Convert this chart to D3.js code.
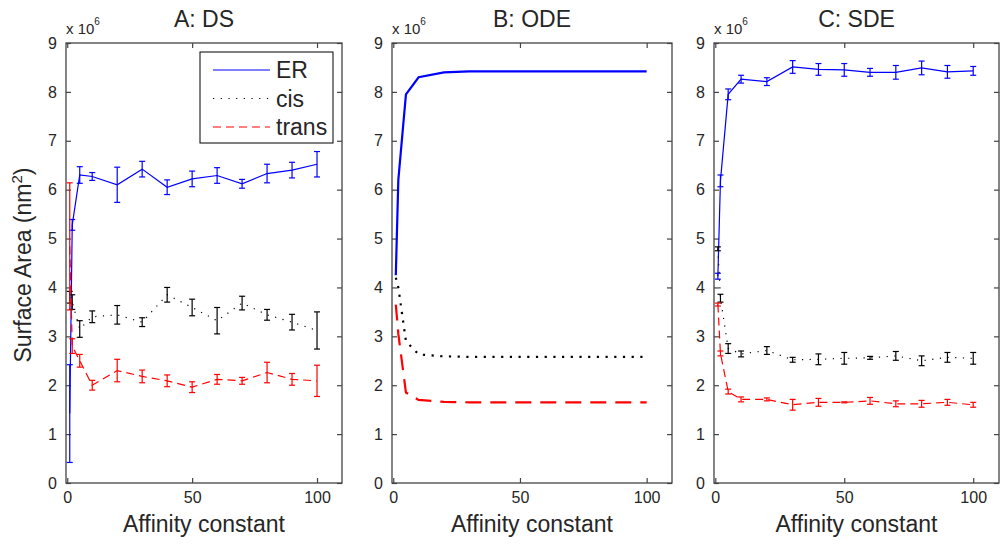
<!DOCTYPE html>
<html>
<head>
<meta charset="utf-8">
<script src="https://cdn.jsdelivr.net/npm/d3@7"></script>
<style>
  body { margin: 0; background: #fff; }
  svg { font-family: "Liberation Sans", Arial, sans-serif; }
</style>
</head>
<body>
<svg id="chart" width="1000" height="544"></svg>
<script>
// affinity constants (x) shared by every series
const affinity = [1, 2, 5, 10, 20, 30, 40, 50, 60, 70, 80, 90, 100];
const yTicks = [0, 1, 2, 3, 4, 5, 6, 7, 8, 9];
const xTicks = [0, 50, 100];
const seriesNames = ['ER', 'cis', 'trans'];

// A: DS  (values in units of 10^6 nm^2)
const dsER = [1.42, 5.28, 6.30, 6.27, 6.10, 6.42, 6.05, 6.22, 6.29, 6.12, 6.33, 6.40, 6.52];
const dsERerr = [1.0, 0.11, 0.17, 0.08, 0.36, 0.16, 0.15, 0.16, 0.16, 0.09, 0.19, 0.16, 0.26];
const dsCis = [3.80, 3.70, 3.15, 3.40, 3.44, 3.29, 3.85, 3.59, 3.32, 3.68, 3.44, 3.29, 3.12];
const dsCisErr = [0.12, 0.15, 0.17, 0.12, 0.19, 0.09, 0.15, 0.17, 0.27, 0.14, 0.11, 0.16, 0.38];
const dsTrans = [4.84, 2.80, 2.50, 2.00, 2.30, 2.18, 2.09, 1.96, 2.12, 2.09, 2.26, 2.12, 2.09];
const dsTransErr = [1.3, 0.15, 0.13, 0.10, 0.23, 0.13, 0.12, 0.11, 0.10, 0.07, 0.21, 0.12, 0.32];

// B: ODE (no error bars)
const odeER = [4.25, 6.20, 7.95, 8.30, 8.40, 8.42, 8.42, 8.42, 8.42, 8.42, 8.42, 8.42, 8.42];
const odeCis = [4.20, 4.00, 2.90, 2.63, 2.59, 2.58, 2.58, 2.58, 2.58, 2.58, 2.58, 2.58, 2.58];
const odeTrans = [3.65, 3.05, 1.85, 1.70, 1.66, 1.65, 1.65, 1.65, 1.65, 1.65, 1.65, 1.65, 1.65];

// C: SDE
const sdeER = [4.23, 6.18, 7.95, 8.26, 8.21, 8.51, 8.46, 8.45, 8.40, 8.40, 8.49, 8.41, 8.43];
const sdeERerr = [0.06, 0.12, 0.11, 0.08, 0.08, 0.13, 0.12, 0.13, 0.08, 0.14, 0.14, 0.13, 0.09];
const sdeCis = [4.79, 3.78, 2.75, 2.64, 2.71, 2.52, 2.53, 2.55, 2.56, 2.60, 2.50, 2.57, 2.55];
const sdeCisErr = [0.04, 0.08, 0.10, 0.06, 0.08, 0.05, 0.11, 0.12, 0.03, 0.09, 0.10, 0.10, 0.12];
const sdeTrans = [3.65, 2.65, 1.87, 1.71, 1.71, 1.60, 1.65, 1.65, 1.68, 1.62, 1.62, 1.65, 1.60];
const sdeTransErr = [0.03, 0.05, 0.05, 0.05, 0.03, 0.11, 0.08, 0.01, 0.07, 0.06, 0.07, 0.06, 0.05];

const svg = d3.select('#chart');
const plotTop = 43, plotBottom = 483;
const axisColor = '#444', textColor = '#262626';
const labelSize = '23px';

const styles = {
  ER: { color: '#0000ff', dash: null },
  cis: { color: '#000000', dash: 'dot' },
  trans: { color: '#ff0000', dash: 'dash' }
};

function dashArray(kind, w) {
  if (kind === 'dot') return (w * 1) + ',' + 6.5;
  if (kind === 'dash') return (w > 1.5 ? '16,9' : '8,5');
  return null;
}

function drawPanel(p) {
  const x = d3.scaleLinear().domain([-0.5, 110]).range([p.left, p.right]);
  const y = d3.scaleLinear().domain([0, 9]).range([plotBottom, plotTop]);
  const g = svg.append('g');

  // axes with inward ticks
  g.append('g').attr('transform', 'translate(0,' + plotBottom + ')')
    .call(d3.axisBottom(x).tickValues(xTicks).tickSizeInner(-5).tickSizeOuter(0).tickPadding(9));
  g.append('g').attr('transform', 'translate(' + p.left + ',0)')
    .call(d3.axisLeft(y).tickValues(yTicks).tickSizeInner(-5).tickSizeOuter(0).tickPadding(9));
  g.append('g').attr('transform', 'translate(0,' + plotTop + ')')
    .call(d3.axisTop(x).tickValues(xTicks).tickSizeInner(-5).tickSizeOuter(0).tickFormat(''));
  g.append('g').attr('transform', 'translate(' + p.right + ',0)')
    .call(d3.axisRight(y).tickValues(yTicks).tickSizeInner(-5).tickSizeOuter(0).tickFormat(''));
  g.selectAll('.domain').remove();
  g.selectAll('.tick line').attr('stroke', axisColor).attr('stroke-width', 1.2);
  g.selectAll('.tick text').attr('fill', textColor).style('font-size', '16px')
    .style('font-family', '"Liberation Sans", Arial, sans-serif');

  g.append('rect')
    .attr('x', p.left).attr('y', plotTop)
    .attr('width', p.right - p.left).attr('height', plotBottom - plotTop)
    .attr('fill', 'none').attr('stroke', axisColor).attr('stroke-width', 1.3);

  // title and exponent label
  g.append('text')
    .attr('x', (p.left + p.right) / 2).attr('y', 27)
    .attr('text-anchor', 'middle').attr('fill', textColor)
    .style('font-size', labelSize).text(p.title);
  const ex = g.append('text').attr('x', p.left).attr('y', 34)
    .attr('fill', textColor).style('font-size', '15px');
  ex.append('tspan').text('x 10');
  ex.append('tspan').attr('dy', -9).style('font-size', '10px').text('6');

  g.append('text')
    .attr('x', (p.left + p.right) / 2).attr('y', 532)
    .attr('text-anchor', 'middle').attr('fill', textColor)
    .style('font-size', labelSize).text('Affinity constant');

  const line = d3.line().x(d => x(d.x)).y(d => y(d.v));

  p.series.forEach(s => {
    const st = styles[s.name];
    const pts = affinity.map((a, i) => ({ x: a, v: s.values[i], e: s.err ? s.err[i] : 0 }));
    g.append('path')
      .datum(pts)
      .attr('d', line)
      .attr('fill', 'none')
      .attr('stroke', st.color)
      .attr('stroke-width', p.lw)
      .attr('stroke-dasharray', dashArray(st.dash, p.lw));

    if (s.err) {
      const eb = g.append('g').attr('stroke', st.color).attr('stroke-width', 1.2);
      eb.selectAll('line.v').data(pts).enter().append('line')
        .attr('x1', d => x(d.x)).attr('x2', d => x(d.x))
        .attr('y1', d => y(d.v - d.e)).attr('y2', d => y(d.v + d.e));
      eb.selectAll('line.lo').data(pts).enter().append('line')
        .attr('x1', d => x(d.x) - 3).attr('x2', d => x(d.x) + 3)
        .attr('y1', d => y(d.v - d.e)).attr('y2', d => y(d.v - d.e));
      eb.selectAll('line.hi').data(pts).enter().append('line')
        .attr('x1', d => x(d.x) - 3).attr('x2', d => x(d.x) + 3)
        .attr('y1', d => y(d.v + d.e)).attr('y2', d => y(d.v + d.e));
    }
  });
  return g;
}

const panelA = drawPanel({
  left: 66, right: 342, title: 'A: DS', lw: 1.2,
  series: [
    { name: 'ER', values: dsER, err: dsERerr },
    { name: 'cis', values: dsCis, err: dsCisErr },
    { name: 'trans', values: dsTrans, err: dsTransErr }
  ]
});
drawPanel({
  left: 392, right: 672, title: 'B: ODE', lw: 2.2,
  series: [
    { name: 'ER', values: odeER },
    { name: 'cis', values: odeCis },
    { name: 'trans', values: odeTrans }
  ]
});
drawPanel({
  left: 714, right: 999, title: 'C: SDE', lw: 1.2,
  series: [
    { name: 'ER', values: sdeER, err: sdeERerr },
    { name: 'cis', values: sdeCis, err: sdeCisErr },
    { name: 'trans', values: sdeTrans, err: sdeTransErr }
  ]
});

// y axis label
const yl = svg.append('text')
  .attr('transform', 'translate(31,265) rotate(-90)')
  .attr('text-anchor', 'middle').attr('fill', textColor)
  .style('font-size', labelSize);
yl.append('tspan').text('Surface Area (nm');
yl.append('tspan').attr('dy', -9).style('font-size', '15px').text('2');
yl.append('tspan').attr('dy', 9).text(')');

// legend in panel A
const leg = panelA.append('g').attr('transform', 'translate(200,52)');
leg.append('rect').attr('width', 133).attr('height', 91)
  .attr('fill', '#fff').attr('stroke', '#000').attr('stroke-width', 1);
seriesNames.forEach((n, i) => {
  const yy = 18 + i * 28.5;
  leg.append('line').attr('x1', 13).attr('x2', 70).attr('y1', yy).attr('y2', yy)
    .attr('stroke', styles[n].color).attr('stroke-width', 1.2)
    .attr('stroke-dasharray', dashArray(styles[n].dash, 1.2));
  leg.append('text').attr('x', 76).attr('y', yy + 8).attr('fill', textColor)
    .style('font-size', labelSize).text(n);
});
</script>
</body>
</html>
